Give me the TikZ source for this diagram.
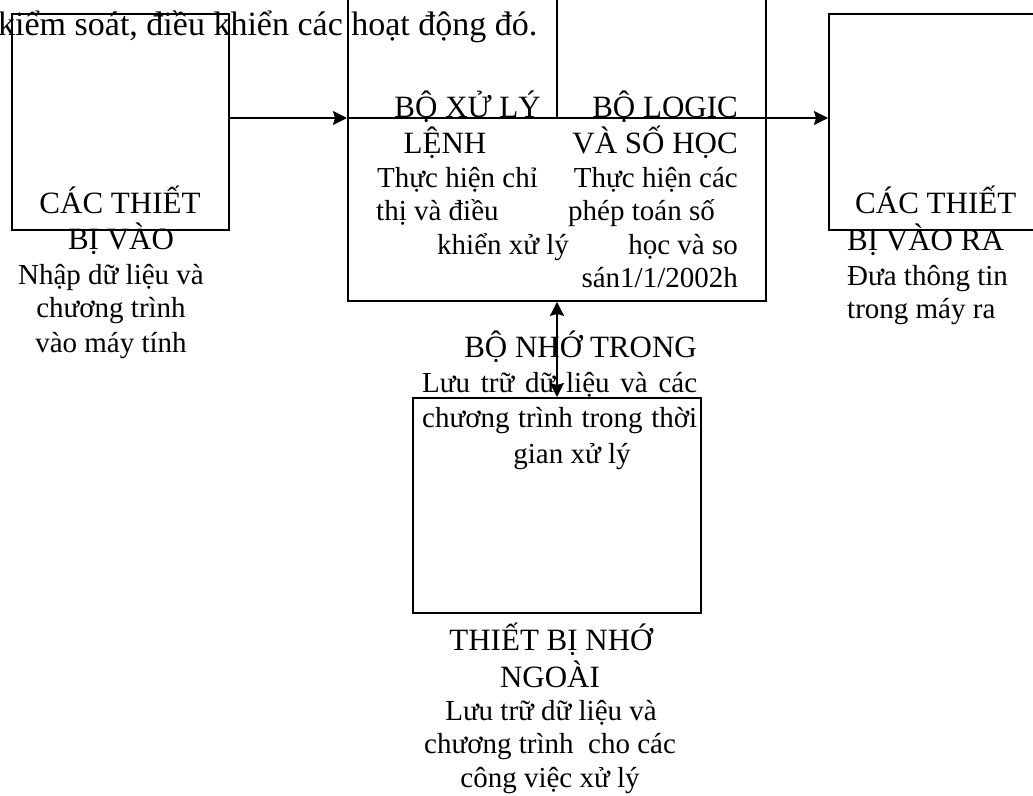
\documentclass[tikz,border=0pt]{standalone}
\usepackage{fontspec}
\setmainfont{Liberation Serif}
\usetikzlibrary{arrows.meta}
\begin{document}
\begin{tikzpicture}[x=1pt,y=-1pt,
  box/.style={draw, line width=1.9pt, inner sep=0pt, anchor=north west},
  ttl/.style={font=\fontsize{31}{36}\selectfont, inner sep=0pt},
  dsc/.style={font=\fontsize{29}{34}\selectfont, inner sep=0pt},
  toptxt/.style={font=\fontsize{34}{40}\selectfont, inner sep=0pt},
  ln/.style={line width=1.9pt},
  arr/.style={line width=1.9pt, -{Stealth[length=14pt,width=14pt,inset=2pt]}},
  darr/.style={line width=1.9pt, {Stealth[length=14pt,width=14pt,inset=2pt]}-{Stealth[length=14pt,width=14pt,inset=2pt]}}
]
\useasboundingbox (0,0) rectangle (1033,795);
\clip (0,0) rectangle (1033,795);
% boxes
\node[box, minimum width=217pt, minimum height=216pt] (lb) at (11,13) {};
\node[box, minimum width=418pt, minimum height=320pt] (cb) at (347,-20) {};
\node[box, minimum width=230pt, minimum height=216pt] (rb) at (828,13) {};
\node[box, minimum width=288pt, minimum height=215pt] (mb) at (412,397) {};
% helper coordinates
\coordinate (bus) at (0,118);
\coordinate (div) at (557,118);
% connectors
\draw[arr] (lb.east|-bus) -- (cb.west|-bus);
\draw[arr] (cb.west|-bus) -- (rb.west|-bus);
\draw[ln] (div|-cb.north) -- (div);
\draw[darr] (div|-cb.south) -- (div|-mb.north);
% top text
\node[toptxt, anchor=base west] (top) at (-2,35) {kiểm soát, điều khiển các hoạt động đó.};
% left box texts
\node[ttl, anchor=base] (l1) at (120,213) {CÁC THIẾT};
\node[ttl, anchor=base] (l2) at (121,249) {BỊ VÀO};
\node[dsc, anchor=base] (l3) at (111,284) {Nhập dữ liệu và};
\node[dsc, anchor=base] (l4) at (111,317) {chương trình};
\node[dsc, anchor=base] (l5) at (111,352) {vào máy tính};
% central left
\node[ttl, anchor=base east] (c1) at (541,117) {BỘ XỬ LÝ};
\node[ttl, anchor=base] (c2) at (445,153) {LỆNH};
\node[dsc, anchor=base west] (c3) at (377,187) {Thực hiện chỉ};
\node[dsc, anchor=base west] (c4) at (376,220) {thị và điều};
\node[dsc, anchor=base west] (c5) at (437,254) {khiển xử lý};
% central right
\node[ttl, anchor=base east] (d1) at (738,117) {BỘ LOGIC};
\node[ttl, anchor=base east] (d2) at (738,153) {VÀ SỐ HỌC};
\node[dsc, anchor=base east] (d3) at (738,187) {Thực hiện các};
\node[dsc, anchor=base west] (d4) at (568,220) {phép toán số};
\node[dsc, anchor=base east] (d5) at (738,254) {học và so};
\node[dsc, anchor=base east] (d6) at (738,287) {sán1/1/2002h};
% right box texts
\node[ttl, anchor=base west] (r1) at (855,213) {CÁC THIẾT};
\node[ttl, anchor=base west] (r2) at (847,250) {BỊ VÀO RA};
\node[dsc, anchor=base west] (r3) at (847,285) {Đưa thông tin};
\node[dsc, anchor=base west] (r4) at (847,318) {trong máy ra};
% memory texts
\node[ttl, anchor=base east] (m1) at (697,357) {BỘ NHỚ TRONG};
\node[dsc, anchor=base west] (m2) at (422,392) {\makebox[275pt][s]{Lưu trữ dữ liệu và các}};
\node[dsc, anchor=base west] (m3) at (422,427) {\makebox[275pt][s]{chương trình trong thời}};
\node[dsc, anchor=base] (m4) at (572,463) {gian xử lý};
% external storage texts
\node[ttl, anchor=base] (e1) at (551,650) {THIẾT BỊ NHỚ};
\node[ttl, anchor=base] (e2) at (550,687) {NGOÀI};
\node[dsc, anchor=base] (e3) at (551,720) {Lưu trữ dữ liệu và};
\node[dsc, anchor=base] (e4) at (550,753) {chương trình\ \ cho các};
\node[dsc, anchor=base] (e5) at (550,787) {công việc xử lý};
\end{tikzpicture}
\end{document}
